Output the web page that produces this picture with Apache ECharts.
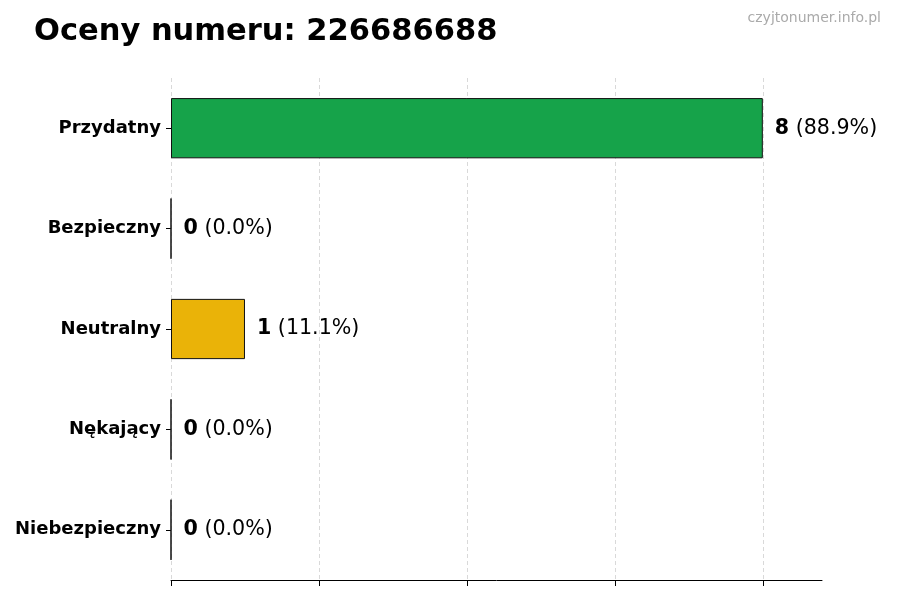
<!DOCTYPE html>
<html><head><meta charset="utf-8">
<script src="https://cdn.jsdelivr.net/npm/echarts@6/dist/echarts.min.js"></script>
<style>html,body{margin:0;padding:0;background:#fff}#c{width:900px;height:600px}</style>
</head><body><div id="c"></div>
<script>
const categories = ['Przydatny', 'Bezpieczny', 'Neutralny', 'Nękający', 'Niebezpieczny'];
const values = [8, 0, 1, 0, 0];
const percents = ['88.9%', '0.0%', '11.1%', '0.0%', '0.0%'];
const colors = ['#16a34a', '#16a34a', '#eab308', '#dc2626', '#991b1b'];
const xTicks = [0, 2, 4, 6, 8];

const chart = echarts.init(document.getElementById('c'));
const F = 'DejaVu Sans';
chart.setOption({
  backgroundColor: '#fff',
  animation: false,
  title: [
    { text: 'Oceny numeru: 226686688', left: 29, top: 12,
      textStyle: { fontFamily: F, fontSize: 30.5, fontWeight: 'bold', color: '#000' } },
    { text: 'czyjtonumer.info.pl', right: 14, top: 6,
      textStyle: { fontFamily: F, fontSize: 14, fontWeight: 'normal', color: '#aaa' } }
  ],
  grid: { left: 171, right: 78, top: 78, bottom: 20, containLabel: false },
  xAxis: {
    type: 'value', min: 0, max: 8.8, interval: 2,
    axisLine: { show: true, lineStyle: { color: '#000', width: 1 } },
    axisTick: { show: true, length: 6, lineStyle: { color: '#000' },
      customValues: xTicks },
    axisLabel: { show: false },
    splitLine: { show: true, lineStyle: { type: [4, 3], color: '#d9d9d9', width: 1 } }
  },
  yAxis: {
    type: 'category', inverse: true, data: categories,
    axisLine: { show: false },
    axisTick: { show: true, alignWithLabel: true, length: 5, lineStyle: { color: '#000' } },
    axisLabel: { fontFamily: F, fontSize: 18, fontWeight: 'bold', color: '#000', margin: 10 }
  },
  series: [{
    type: 'bar', barWidth: '60%',
    data: values.map((v, i) => ({ value: v,
      itemStyle: { color: colors[i], borderColor: '#111', borderWidth: 1 } })),
    label: {
      show: true, position: 'right', distance: 12, offset: [0, 0],
      formatter: p => '{b|' + values[p.dataIndex] + '}{n| (' + percents[p.dataIndex] + ')}',
      rich: {
        b: { fontFamily: F, fontSize: 20.6, fontWeight: 'bold', color: '#000' },
        n: { fontFamily: F, fontSize: 20.6, color: '#000' }
      }
    }
  }]
});
</script></body></html>
